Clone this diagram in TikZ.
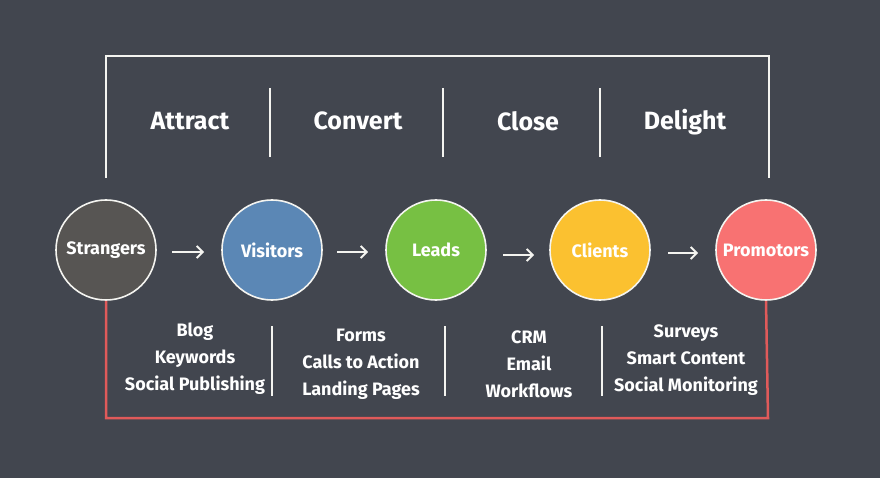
\documentclass[tikz,border=0pt]{standalone}
\usepackage{fontspec}
\setmainfont{Fira Sans}
\usetikzlibrary{arrows.meta}
\definecolor{board}{HTML}{42464F}
\definecolor{cstr}{HTML}{575553}
\definecolor{cvis}{HTML}{5B87B5}
\definecolor{clead}{HTML}{77C043}
\definecolor{ccli}{HTML}{FBC130}
\definecolor{cpro}{HTML}{F87272}
\definecolor{redline}{HTML}{E05A5A}
\definecolor{chalk}{HTML}{F4F4F0}
\begin{document}
\begin{tikzpicture}[x=1pt,y=-1pt,
  stage/.style={circle,draw=chalk,line width=1.6pt,minimum size=100pt,inner sep=0pt,text=white,font=\fontsize{18}{18}\selectfont\bfseries},
  phase/.style={text=white,font=\fontsize{25}{25}\selectfont\bfseries},
  tool/.style={text=white,font=\fontsize{18}{27}\selectfont\bfseries,align=center},
  flow/.style={draw=chalk,line width=1.8pt,-{Straight Barb[length=6pt,width=12pt]}},
  divider/.style={draw=chalk,line width=1.5pt},
  topbracket/.style={draw=chalk,line width=2pt},
  botbracket/.style={draw=redline,line width=2.5pt}]
\fill[board] (0,0) rectangle (880,478);
\useasboundingbox (0,0) rectangle (880,478);
% stages
\node[stage,fill=cstr] (s) at (106,250) {Strangers};
\node[stage,fill=cvis] (v) at (272,250) {Visitors};
\node[stage,fill=clead] (l) at (436,250) {Leads};
\node[stage,fill=ccli] (c) at (600,250) {Clients};
\node[stage,fill=cpro] (p) at (766,250) {Promotors};
% arrows
\coordinate (a1s) at (172,252); \coordinate (a1e) at (204,252);
\coordinate (a2s) at (337,252); \coordinate (a2e) at (368,252);
\coordinate (a3s) at (503,255); \coordinate (a3e) at (534,255);
\coordinate (a4s) at (668,253); \coordinate (a4e) at (698,253);
\draw[flow] (a1s) -- (a1e);
\draw[flow] (a2s) -- (a2e);
\draw[flow] (a3s) -- (a3e);
\draw[flow] (a4s) -- (a4e);
% top bracket
\coordinate (tl) at (106,56); \coordinate (tr) at (769,56);
\coordinate (tle) at (106,178); \coordinate (tre) at (769,178);
\draw[topbracket] (tle) -- (tl) -- (tr) -- (tre);
% phases
\node[phase] (ph1) at (190,121) {Attract};
\node[phase] (ph2) at (358,121) {Convert};
\node[phase] (ph3) at (528,121) {Close};
\node[phase] (ph4) at (685,122) {Delight};
\foreach \x/\n in {270/t1,443/t2,600/t3}{
  \coordinate (\n a) at (\x,88); \coordinate (\n b) at (\x,157);
  \draw[divider] (\n a) -- (\n b);
}
% bottom bracket
\coordinate (bl) at (106,418); \coordinate (br) at (768,418);
\draw[botbracket] (s.south) -- (bl) -- (br) -- (p.south);
\foreach \x/\n in {272/b1,445/b2,602/b3}{
  \coordinate (\n a) at (\x,326); \coordinate (\n b) at (\x,396);
  \draw[divider] (\n a) -- (\n b);
}
% tools
\node[tool] (k1) at (195,359) {Blog\\Keywords\\Social Publishing};
\node[tool] (k2) at (361,364) {Forms\\Calls to Action\\Landing Pages};
\node[tool] (k3) at (529,364) {CRM\\Email\\Workflows};
\node[tool] (k4) at (686,360) {Surveys\\Smart Content\\Social Monitoring};
\end{tikzpicture}
\end{document}
